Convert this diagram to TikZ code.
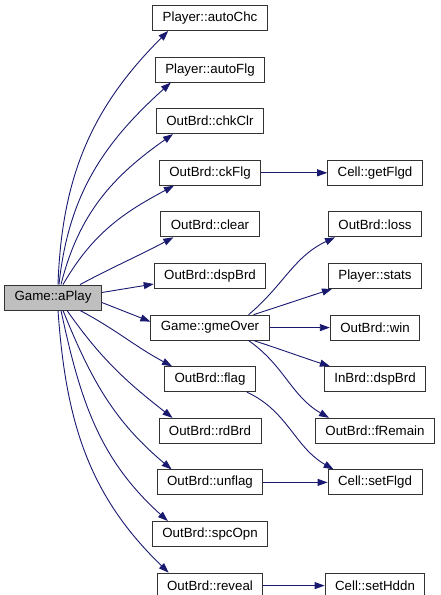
\documentclass[tikz,border=0pt]{standalone}
\usepackage{fontspec}
\setmainfont{Liberation Sans}
\usepackage{xcolor}
\usetikzlibrary{arrows.meta,positioning}
\definecolor{midblue}{HTML}{191970}

\begin{document}
\begin{tikzpicture}[
    x=1pt, y=1pt,
    node distance=25.7pt,
    fn/.style={rectangle, draw=black!80, fill=white, line width=0.9pt, minimum height=25pt, inner xsep=10pt, font=\fontsize{13.3}{16}\selectfont},
    root/.style={fn, fill=black!25},
    call/.style={-{Triangle[length=10pt,width=7pt]}, draw=midblue, line width=0.9pt}
]
\useasboundingbox (0,0) rectangle (440,-595);

\node[root] (aplay) at (53,-297.5) {Game::aPlay};

\node[fn] (autochc) at (210,-18) {Player::autoChc};
\node[fn, below=of autochc] (autoflg) {Player::autoFlg};
\node[fn, below=of autoflg] (chkclr) {OutBrd::chkClr};
\node[fn, below=of chkclr] (ckflg) {OutBrd::ckFlg};
\node[fn, below=of ckflg] (clear) {OutBrd::clear};
\node[fn, below=of clear] (dspbrd) {OutBrd::dspBrd};
\node[fn, below=of dspbrd] (gmeover) {Game::gmeOver};
\node[fn, below=of gmeover] (flag) {OutBrd::flag};
\node[fn, below=of flag] (rdbrd) {OutBrd::rdBrd};
\node[fn, below=of rdbrd] (unflag) {OutBrd::unflag};
\node[fn, below=of unflag] (spcopn) {OutBrd::spcOpn};
\node[fn, below=of spcopn] (reveal) {OutBrd::reveal};

\coordinate (col3) at (375,0);
\node[fn] (getflgd) at (ckflg -| col3) {Cell::getFlgd};
\node[fn] (loss) at (clear -| col3) {OutBrd::loss};
\node[fn] (stats) at (dspbrd -| col3) {Player::stats};
\node[fn] (win) at (gmeover -| col3) {OutBrd::win};
\node[fn] (inbrd) at (flag -| col3) {InBrd::dspBrd};
\node[fn] (fremain) at (rdbrd -| col3) {OutBrd::fRemain};
\node[fn] (setflgd) at (unflag -| col3) {Cell::setFlgd};
\node[fn] (sethddn) at (reveal -| col3) {Cell::setHddn};

\draw[call] ([xshift=5pt]aplay.north) to[out=88,in=225] ([xshift=16pt]autochc.south west);
\draw[call] ([xshift=6pt]aplay.north) to[out=84,in=222] ([xshift=16pt]autoflg.south west);
\draw[call] ([xshift=8pt]aplay.north) to[out=76,in=215] ([xshift=17pt]chkclr.south west);
\draw[call] ([xshift=10pt]aplay.north) to[out=60,in=208] ([xshift=15pt]ckflg.south west);
\draw[call] ([xshift=27pt]aplay.north) to[out=28,in=208] ([xshift=13pt]clear.south west);
\draw[call] ([yshift=5pt]aplay.east) -- ([yshift=-8pt]dspbrd.west);
\draw[call] ([yshift=-5pt]aplay.east) -- ([yshift=6pt]gmeover.west);
\draw[call] ([xshift=27pt]aplay.south) to[out=-28,in=152] ([xshift=8pt]flag.north west);
\draw[call] ([xshift=14pt]aplay.south) to[out=-55,in=142] ([xshift=14pt]rdbrd.north west);
\draw[call] ([xshift=10pt]aplay.south) to[out=-68,in=140] ([xshift=15pt]unflag.north west);
\draw[call] ([xshift=8pt]aplay.south) to[out=-78,in=138] ([xshift=16pt]spcopn.north west);
\draw[call] ([xshift=5pt]aplay.south) to[out=-86,in=136] ([xshift=12pt]reveal.north west);

\draw[call] (ckflg) -- (getflgd);
\draw[call] ([xshift=-21pt]gmeover.north east) to[out=40,in=205] ([xshift=7pt]loss.south west);
\draw[call] ([xshift=-16pt]gmeover.north east) to[out=18,in=198] ([xshift=4pt]stats.south west);
\draw[call] (gmeover) -- (win);
\draw[call] ([xshift=-16pt]gmeover.south east) to[out=-18,in=162] ([xshift=6pt]inbrd.north west);
\draw[call] ([xshift=-21pt]gmeover.south east) to[out=-35,in=150] ([xshift=14pt]fremain.north west);
\draw[call] ([xshift=-9pt]flag.south east) to[out=-25,in=150] ([xshift=6pt]setflgd.north west);
\draw[call] (unflag) -- (setflgd);
\draw[call] (reveal) -- (sethddn);
\end{tikzpicture}
\end{document}
